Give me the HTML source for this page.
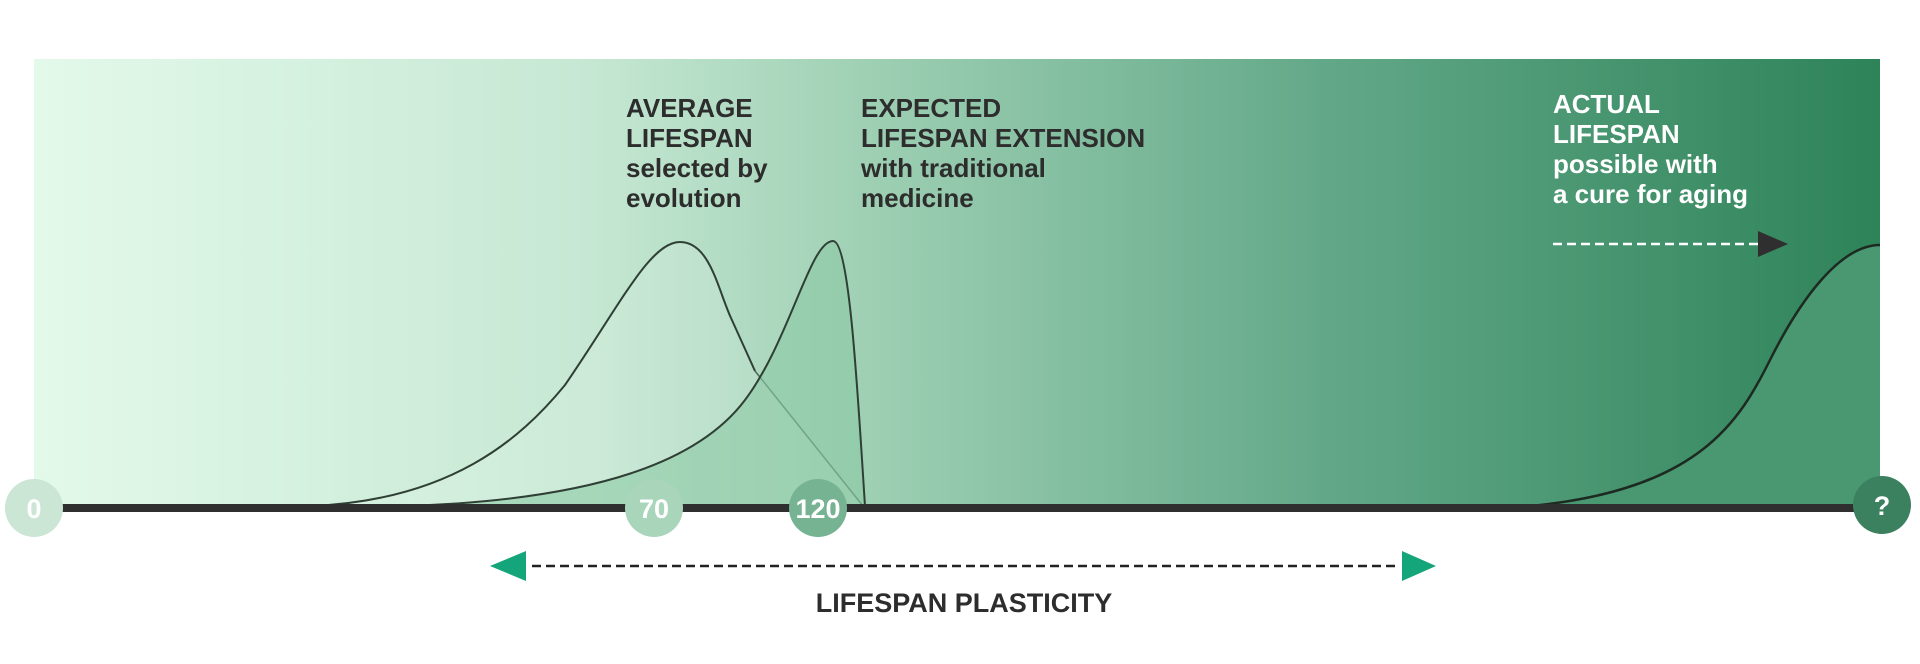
<!DOCTYPE html>
<html><head><meta charset="utf-8"><style>
body{margin:0;width:1920px;height:664px;background:#fff;overflow:hidden}
svg{display:block}
text{font-family:"Liberation Sans",sans-serif;font-weight:bold}
</style></head><body>
<svg width="1920" height="664" viewBox="0 0 1920 664">
<defs>
<linearGradient id="g" x1="34" x2="1880" y1="0" y2="0" gradientUnits="userSpaceOnUse">
<stop offset="0" stop-color="#e3f9ea"/>
<stop offset="0.3" stop-color="#c6e8d3"/>
<stop offset="0.45" stop-color="#9fd0b4"/>
<stop offset="0.7" stop-color="#62a888"/>
<stop offset="1" stop-color="#2e8359"/>
</linearGradient>
</defs>
<rect x="34" y="59" width="1846" height="449" fill="url(#g)"/>
<path d="M312,506 C450,500 520,440 565,385 C620,305 650,242 680,242 C710,242 718,290 731,318 L755,371 L863,506 Z" fill="rgba(255,255,255,0.12)"/>
<path d="M312,506 C450,500 520,440 565,385 C620,305 650,242 680,242 C710,242 718,290 731,318 L755,371" fill="none" stroke="#2f3f35" stroke-width="2"/>
<path d="M755,371 L863,506" fill="none" stroke="#4a6b58" stroke-width="1.5"/>
<path d="M404,506 C600,500 700,460 745,400 C790,340 810,241 833,241 C850,241 858,400 865,506 Z" fill="#8ccaa5" fill-opacity="0.6"/>
<path d="M404,506 C600,500 700,460 745,400 C790,340 810,241 833,241 C850,241 858,400 865,506" fill="none" stroke="#2f3f35" stroke-width="2"/>
<path d="M1531,506 C1700,490 1740,420 1770,360 C1800,300 1840,245 1880,245 L1880,506 Z" fill="#4a9872"/>
<path d="M1531,506 C1700,490 1740,420 1770,360 C1800,300 1840,245 1880,245" fill="none" stroke="#1d2a22" stroke-width="2.5"/>
<rect x="34" y="504" width="1846" height="8" fill="#2f2f2f"/>
<circle cx="34" cy="508" r="29" fill="#cbe6d5"/>
<text x="34" y="518" font-size="27" fill="#fff" text-anchor="middle">0</text>
<circle cx="654" cy="508" r="29" fill="#a9d5bb"/>
<text x="654" y="518" font-size="27" fill="#fff" text-anchor="middle">70</text>
<circle cx="818" cy="508" r="29" fill="#75b392"/>
<text x="818" y="518" font-size="27" fill="#fff" text-anchor="middle">120</text>
<circle cx="1882" cy="505" r="29" fill="#3b8160"/>
<text x="1882" y="515" font-size="27" fill="#fff" text-anchor="middle">?</text>
<g font-size="26" fill="#2d2d2d">
<text x="626" y="117">AVERAGE</text>
<text x="626" y="147">LIFESPAN</text>
<text x="626" y="177">selected by</text>
<text x="626" y="207">evolution</text>
<text x="861" y="117">EXPECTED</text>
<text x="861" y="147">LIFESPAN EXTENSION</text>
<text x="861" y="177">with traditional</text>
<text x="861" y="207">medicine</text>
</g>
<g font-size="26" fill="#fff">
<text x="1553" y="113">ACTUAL</text>
<text x="1553" y="143">LIFESPAN</text>
<text x="1553" y="173">possible with</text>
<text x="1553" y="203">a cure for aging</text>
</g>
<line x1="1553" y1="244" x2="1758" y2="244" stroke="#fff" stroke-width="2.5" stroke-dasharray="9,5"/>
<polygon points="1758,231 1788,244 1758,257" fill="#2f2f2f"/>
<line x1="532" y1="566" x2="1398" y2="566" stroke="#222" stroke-width="2.5" stroke-dasharray="9,5"/>
<polygon points="490,566 526,551 526,581" fill="#14a57a"/>
<polygon points="1402,551 1436,566 1402,581" fill="#14a57a"/>
<text x="964" y="612" font-size="27" fill="#2d2d2d" text-anchor="middle">LIFESPAN PLASTICITY</text>
</svg>
</body></html>
